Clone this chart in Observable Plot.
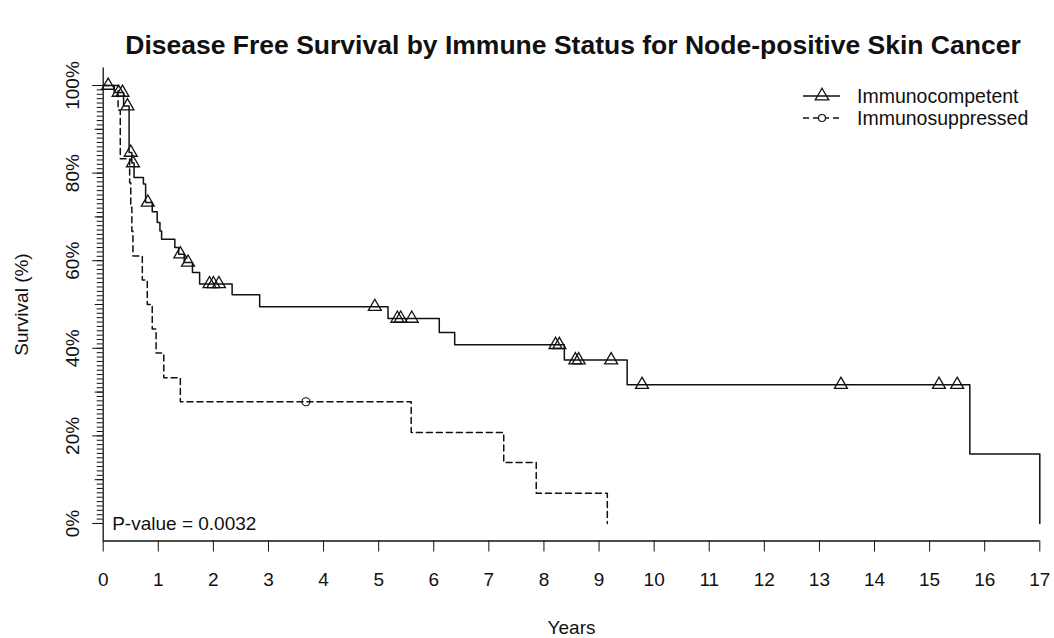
<!DOCTYPE html>
<html>
<head>
<meta charset="utf-8">
<script src="https://cdn.jsdelivr.net/npm/d3@7"></script>
<script src="https://cdn.jsdelivr.net/npm/@observablehq/plot@0.6"></script>
<style>
  body { margin: 0; background: #fff; font-family: "Liberation Sans", Arial, Helvetica, sans-serif; color: #111; }
  #wrap { position: relative; width: 1054px; height: 638px; overflow: hidden; }
  #title { height: 60px; box-sizing: border-box; width: 1054px; padding-top: 31px; padding-left: 92px;
           text-align: center; font-weight: bold; font-size: 26.5px; line-height: 28px; white-space: nowrap; }
  #legend { position: absolute; left: 800px; top: 85px; font-size: 19.5px; line-height: 22px; }
  #legend .row { display: flex; align-items: center; height: 22px; }
  #legend svg { display: block; margin-right: 13px; }
</style>
</head>
<body>
<div id="wrap">
  <div id="title"></div>
  <div id="chart"></div>
  <div id="legend"></div>
</div>
<script>
// ---------- data ----------
const titleText = "Disease Free Survival by Immune Status for Node-positive Skin Cancer";
const xLabel = "Years";
const yLabel = "Survival (%)";
const pValueText = "P-value = 0.0032";
const seriesNames = ["Immunocompetent", "Immunosuppressed"];

// Immunocompetent: step times (years) and survival (%) after each step
const competentTimes = [0, 0.20, 0.37, 0.47, 0.52, 0.56, 0.73, 0.77, 0.89, 0.98, 1.03, 1.06, 1.30, 1.37, 1.47, 1.62, 1.75, 2.34, 2.84, 5.17, 6.10, 6.38, 8.37, 9.51, 15.73, 17.0];
const competentSurv  = [100, 98.4, 95.3, 84.7, 82.3, 79.0, 77.5, 73.3, 71.2, 68.7, 66.8, 64.9, 63.0, 61.5, 59.6, 57.3, 54.7, 52.2, 49.5, 46.8, 43.6, 40.8, 37.3, 31.7, 15.85, 0];
const competentCensored = [0.09, 0.28, 0.35, 0.44, 0.50, 0.54, 0.81, 1.40, 1.54, 1.93, 2.00, 2.10, 4.93, 5.34, 5.40, 5.60, 8.21, 8.28, 8.57, 8.63, 9.22, 9.78, 13.39, 15.17, 15.50];

// Immunosuppressed
const suppressedTimes = [0, 0.27, 0.31, 0.48, 0.50, 0.52, 0.54, 0.71, 0.80, 0.89, 0.96, 1.10, 1.40, 5.59, 7.27, 7.86, 9.15];
const suppressedSurv  = [100, 94.4, 83.3, 77.8, 72.2, 66.7, 61.1, 55.6, 50.0, 44.4, 38.9, 33.3, 27.8, 20.8, 13.9, 6.9, 0];
const suppressedCensored = [3.68];

// axes
const xDomain = [0, 17];
const yDomain = [-4, 104];
const xTicks = d3.range(0, 18, 1);
const yMajorTicks = [0, 20, 40, 60, 80, 100];
const yMidTicks = [10, 30, 50, 70, 90];
const yMinorTicks = d3.range(0, 101, 1);

// ---------- build ----------
const toRows = (ts, ss) => ts.map((t, i) => ({t, s: ss[i]}));
const competent = toRows(competentTimes, competentSurv);
const suppressed = toRows(suppressedTimes, suppressedSurv);
function survAt(rows, t) {
  let s = rows[0].s;
  for (const r of rows) { if (r.t <= t) s = r.s; else break; }
  return s;
}
const competentMarks = competentCensored.map(t => ({t, s: survAt(competent, t)}));
const suppressedMarks = suppressedCensored.map(t => ({t, s: survAt(suppressed, t)}));

document.getElementById("title").textContent = titleText;

const ink = "#111";
const chart = Plot.plot({
  width: 1054,
  height: 578,
  marginLeft: 102.7,
  marginRight: 14.7,
  marginTop: 7.5,
  marginBottom: 97.5,
  x: {domain: xDomain},
  y: {domain: yDomain},
  style: {fontFamily: "'Liberation Sans', Arial, Helvetica, sans-serif", fontSize: "19px", color: ink, background: "white", overflow: "visible"},
  marks: [
    Plot.ruleX([xDomain[0]], {stroke: ink, strokeWidth: 1.3}),
    Plot.ruleY([yDomain[0]], {stroke: ink, strokeWidth: 1.3}),
    Plot.axisY({ticks: yMinorTicks, tickSize: 6, text: null, label: null, stroke: ink}),
    Plot.axisY({ticks: yMidTicks, tickSize: 8, text: null, label: null, stroke: ink}),
    Plot.axisY({ticks: yMajorTicks, tickSize: 10.5, tickPadding: 14, tickRotate: -90,
                textAnchor: "middle", lineAnchor: "bottom", tickFormat: d => d + "%",
                label: yLabel, labelAnchor: "center", labelOffset: 89, labelArrow: "none", stroke: ink, fill: ink}),
    Plot.axisX({ticks: xTicks, tickSize: 11, tickPadding: 20, tickFormat: d => String(d),
                label: xLabel, labelAnchor: "center", labelOffset: 93, labelArrow: "none", stroke: ink, fill: ink}),
    Plot.line(competent, {x: "t", y: "s", curve: "step-after", stroke: ink, strokeWidth: 1.5}),
    Plot.line(suppressed, {x: "t", y: "s", curve: "step-after", stroke: ink, strokeWidth: 1.5, strokeDasharray: "6,4"}),
    Plot.dot(competentMarks, {x: "t", y: "s", symbol: "triangle", r: 4.8, stroke: ink, fill: "none", strokeWidth: 1.3}),
    Plot.dot(suppressedMarks, {x: "t", y: "s", symbol: "circle", r: 4, stroke: ink, fill: "none", strokeWidth: 1.2}),
    Plot.text([pValueText], {x: xDomain[0], y: 0, text: d => d, dx: 9, textAnchor: "start", lineAnchor: "middle", fill: ink, fontSize: 19})
  ]
});
document.getElementById("chart").appendChild(chart);

// legend (HTML overlay, top-right of plot area)
const legend = document.getElementById("legend");
const tri = "M22,3.2 L15.25,14.9 L28.75,14.9 Z";
const samples = [
  `<svg width="44" height="22"><line x1="3" x2="40" y1="11" y2="11" stroke="${ink}" stroke-width="1.5"/><path d="${tri}" fill="none" stroke="${ink}" stroke-width="1.3"/></svg>`,
  `<svg width="44" height="22"><line x1="3" x2="40" y1="11" y2="11" stroke="${ink}" stroke-width="1.5" stroke-dasharray="6,4"/><circle cx="22" cy="11" r="3.5" fill="white" stroke="${ink}" stroke-width="1.2"/></svg>`
];
seriesNames.forEach((name, i) => {
  const row = document.createElement("div");
  row.className = "row";
  row.innerHTML = samples[i] + `<span>${name}</span>`;
  legend.appendChild(row);
});
</script>
</body>
</html>
